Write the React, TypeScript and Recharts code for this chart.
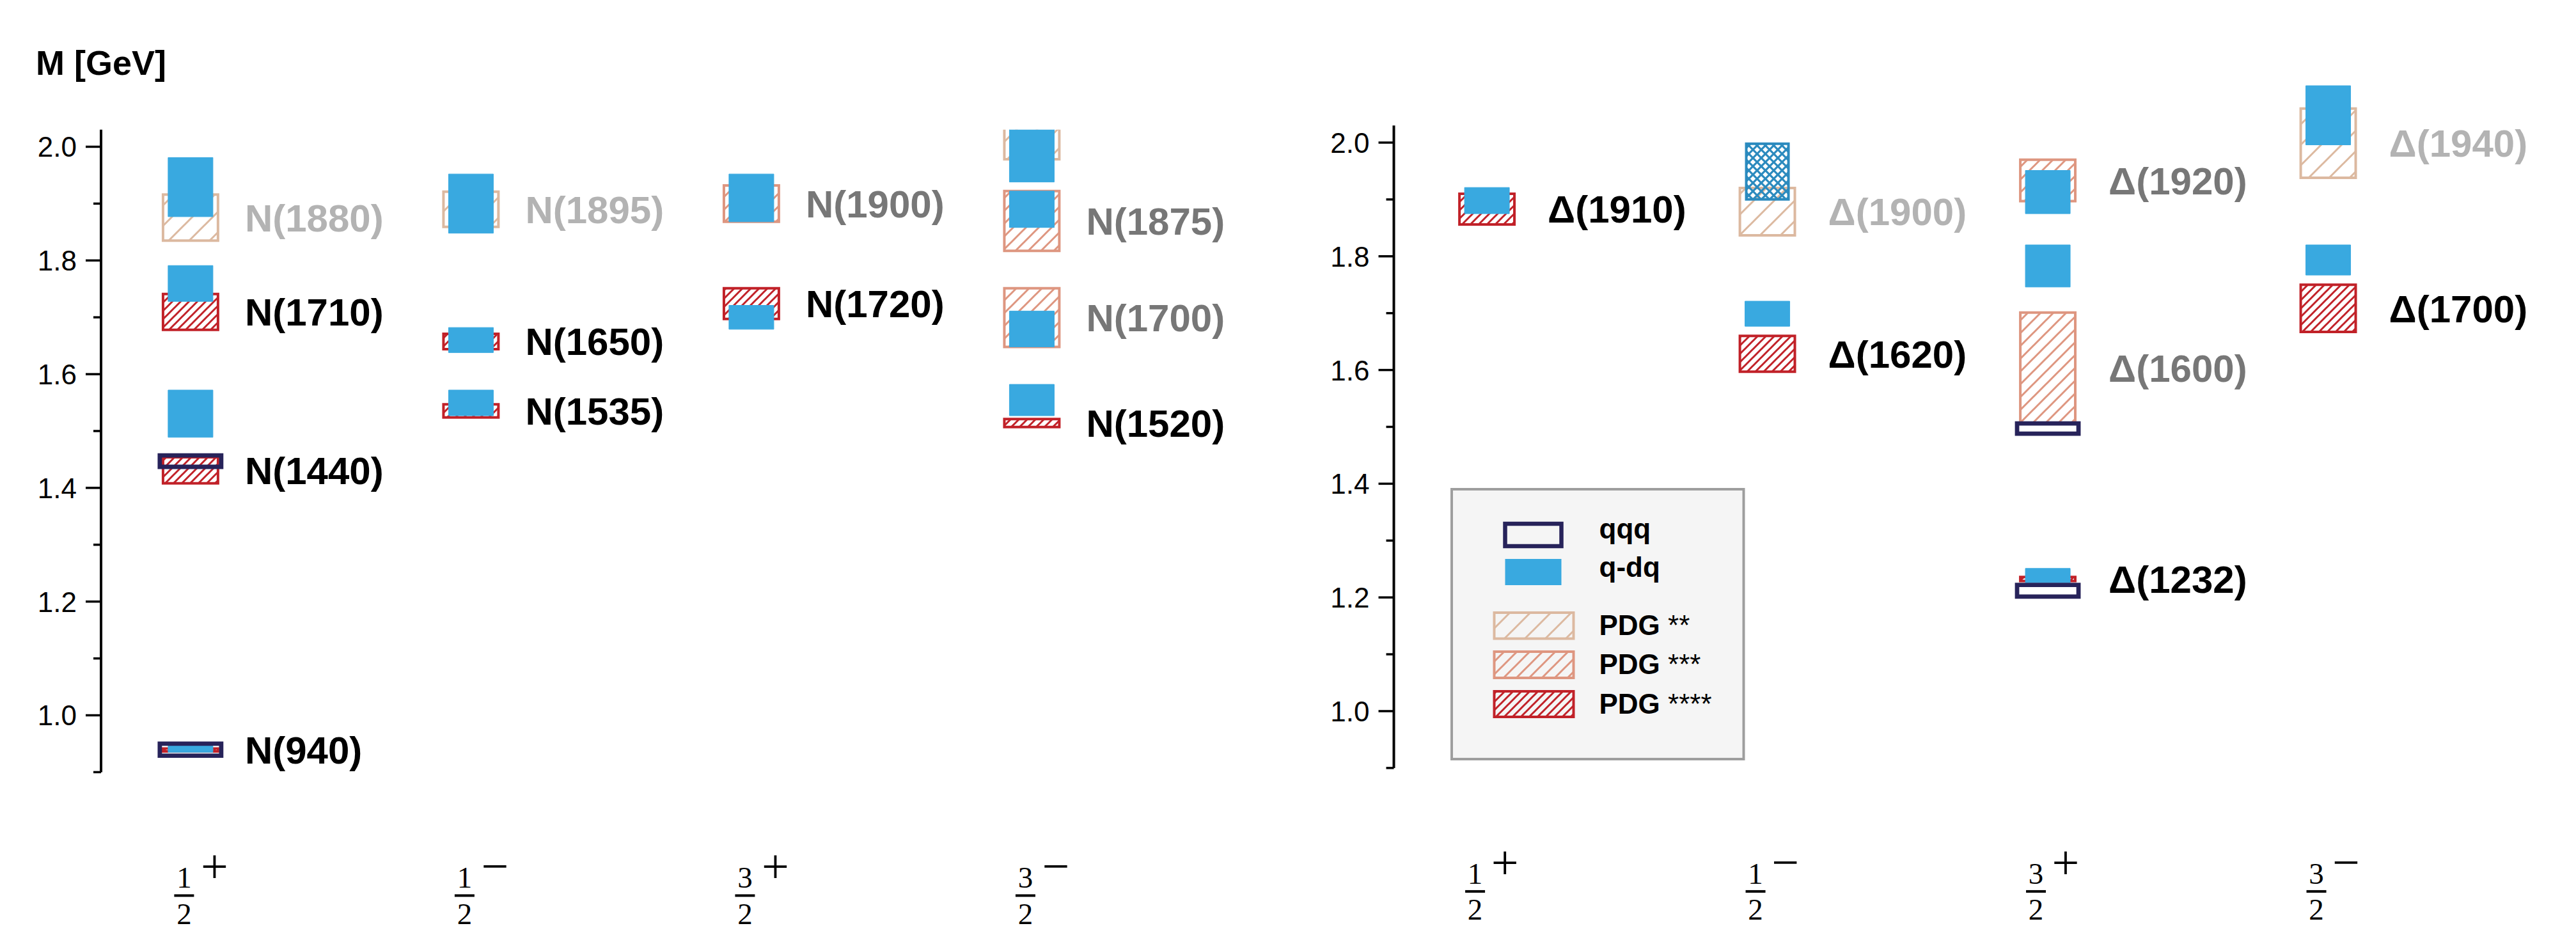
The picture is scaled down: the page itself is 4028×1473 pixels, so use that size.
import React from "react";
import { ComposedChart, XAxis, YAxis, ReferenceArea, Scatter, Legend } from "recharts";

// columns of the level scheme
const spinParity = ["1/2+", "1/2−", "3/2+", "3/2−"];
const columnTicks = [1, 2, 3, 4];
const majorMassTicks = [1.0, 1.2, 1.4, 1.6, 1.8, 2.0];
const minorMassTicks = [0.9, 1.1, 1.3, 1.5, 1.7, 1.9];
const massTicks = [...minorMassTicks, ...majorMassTicks].sort((a, b) => a - b);

// PDG mass ranges in GeV (stars = PDG rating)
const nucleonPdg = [
  { jp: "1/2+", lo: 0.9365, hi: 0.9415, stars: 4, name: "N(940)" },
  { jp: "1/2+", lo: 1.408, hi: 1.454, stars: 4, name: "N(1440)" },
  { jp: "1/2+", lo: 1.678, hi: 1.741, stars: 4, name: "N(1710)" },
  { jp: "1/2+", lo: 1.835, hi: 1.916, stars: 2, name: "N(1880)" },
  { jp: "1/2−", lo: 1.524, hi: 1.547, stars: 4, name: "N(1535)" },
  { jp: "1/2−", lo: 1.644, hi: 1.671, stars: 4, name: "N(1650)" },
  { jp: "1/2−", lo: 1.859, hi: 1.921, stars: 2, name: "N(1895)" },
  { jp: "3/2+", lo: 1.697, hi: 1.751, stars: 4, name: "N(1720)" },
  { jp: "3/2+", lo: 1.868, hi: 1.932, stars: 3, name: "N(1900)" },
  { jp: "3/2−", lo: 1.507, hi: 1.521, stars: 4, name: "N(1520)" },
  { jp: "3/2−", lo: 1.648, hi: 1.751, stars: 3, name: "N(1700)" },
  { jp: "3/2−", lo: 1.817, hi: 1.922, stars: 3, name: "N(1875)" },
  { jp: "3/2−", lo: 1.978, hi: 2.1, stars: 2, name: "" },
];

// quark-diquark results
const nucleonQdq = [
  { jp: "1/2+", lo: 0.935, hi: 0.946 },
  { jp: "1/2+", lo: 1.489, hi: 1.572 },
  { jp: "1/2+", lo: 1.728, hi: 1.791 },
  { jp: "1/2+", lo: 1.877, hi: 1.981 },
  { jp: "1/2−", lo: 1.527, hi: 1.572 },
  { jp: "1/2−", lo: 1.638, hi: 1.682 },
  { jp: "1/2−", lo: 1.848, hi: 1.952 },
  { jp: "3/2+", lo: 1.679, hi: 1.721 },
  { jp: "3/2+", lo: 1.868, hi: 1.952 },
  { jp: "3/2−", lo: 1.527, hi: 1.582 },
  { jp: "3/2−", lo: 1.648, hi: 1.711 },
  { jp: "3/2−", lo: 1.858, hi: 1.922 },
  { jp: "3/2−", lo: 1.938, hi: 2.1 },
];

// three-quark results
const nucleonQqq = [
  { jp: "1/2+", lo: 0.929, hi: 0.95 },
  { jp: "1/2+", lo: 1.437, hi: 1.457 },
];

const deltaPdg = [
  { jp: "1/2+", lo: 1.856, hi: 1.91, stars: 4, name: "Δ(1910)" },
  { jp: "1/2−", lo: 1.597, hi: 1.66, stars: 4, name: "Δ(1620)" },
  { jp: "1/2−", lo: 1.837, hi: 1.92, stars: 2, name: "Δ(1900)" },
  { jp: "3/2+", lo: 1.229, hi: 1.236, stars: 4, name: "Δ(1232)" },
  { jp: "3/2+", lo: 1.507, hi: 1.701, stars: 3, name: "Δ(1600)" },
  { jp: "3/2+", lo: 1.897, hi: 1.97, stars: 3, name: "Δ(1920)" },
  { jp: "3/2−", lo: 1.667, hi: 1.75, stars: 4, name: "Δ(1700)" },
  { jp: "3/2−", lo: 1.938, hi: 2.06, stars: 2, name: "Δ(1940)" },
];

const deltaQdq = [
  { jp: "1/2+", lo: 1.875, hi: 1.921 },
  { jp: "1/2−", lo: 1.677, hi: 1.721 },
  { jp: "3/2+", lo: 1.226, hi: 1.251 },
  { jp: "3/2+", lo: 1.746, hi: 1.82 },
  { jp: "3/2+", lo: 1.875, hi: 1.951 },
  { jp: "3/2−", lo: 1.767, hi: 1.82 },
  { jp: "3/2−", lo: 1.996, hi: 2.1 },
];

const deltaQdqHatched = [{ jp: "1/2−", lo: 1.9, hi: 1.998 }];

const deltaQqq = [
  { jp: "3/2+", lo: 1.2015, hi: 1.222 },
  { jp: "3/2+", lo: 1.488, hi: 1.506 },
];

const legendItems = [
  { label: "qqq", kind: "qqq" },
  { label: "q-dq", kind: "qdq" },
  { label: "PDG", stars: 2, kind: "pdg" },
  { label: "PDG", stars: 3, kind: "pdg" },
  { label: "PDG", stars: 4, kind: "pdg" },
];

const QQQ_COLOR = "#27235a";
const QDQ_COLOR = "#39a9e0";
const XHATCH_COLOR = "#2b8abe";
const PDG_COLOR: Record<number, string> = { 2: "#dcb9a0", 3: "#de9680", 4: "#c12128" };
const LABEL_COLOR: Record<number, string> = { 2: "#b3b3b3", 3: "#777777", 4: "#000000" };
const HATCH_SPACING: Record<number, number> = { 2: 32, 3: 20, 4: 13 };

// half widths in column units
const PDG_HALF = 0.098;
const QDQ_HALF = 0.0798;
const XHATCH_HALF = 0.0753;
const QQQ_HALF = 0.1095;

const SANS = "'Liberation Sans', Arial, Helvetica, sans-serif";
const SERIF = "'Liberation Serif', 'Times New Roman', serif";

const col = (jp: string) => spinParity.indexOf(jp) + 1;

function fwd(s: number, w: number) {
  return `M0,${s} L${s},0 M${-w},${w} L${w},${-w} M${s - w},${s + w} L${s + w},${s - w}`;
}
function back(s: number, w: number) {
  return `M0,0 L${s},${s} M${s - w},${-w} L${s + w},${w} M${-w},${s - w} L${w},${s + w}`;
}

function HatchDefs() {
  return (
    <svg width={0} height={0} style={{ position: "absolute" }}>
      <defs>
        {[2, 3, 4].map((st) => (
          <pattern
            key={st}
            id={`hatch${st}`}
            patternUnits="userSpaceOnUse"
            width={HATCH_SPACING[st]}
            height={HATCH_SPACING[st]}
          >
            <path d={fwd(HATCH_SPACING[st], 3)} stroke={PDG_COLOR[st]} strokeWidth={3} />
          </pattern>
        ))}
        <pattern id="xhatch" patternUnits="userSpaceOnUse" width={13} height={13}>
          <path d={fwd(13, 3)} stroke={XHATCH_COLOR} strokeWidth={3.2} />
          <path d={back(13, 3)} stroke={XHATCH_COLOR} strokeWidth={3.2} />
        </pattern>
      </defs>
    </svg>
  );
}

function MassTick({ x, y, payload }: any) {
  const v = payload.value;
  const major = majorMassTicks.some((m) => Math.abs(m - v) < 1e-6);
  return (
    <g>
      <line x1={x - (major ? 24 : 12)} x2={x} y1={y} y2={y} stroke="#000" strokeWidth={3.5} />
      {major && (
        <text x={x - 38} y={y + 16} textAnchor="end" fontSize={44} fontFamily={SANS} fill="#000">
          {v.toFixed(1)}
        </text>
      )}
    </g>
  );
}

function SpinTick({ x, y, payload, fracDx, signDx }: any) {
  const s = spinParity[payload.value - 1];
  if (!s) return null;
  const [num, rest] = s.split("/");
  const den = rest[0];
  const sign = rest.slice(1);
  const fx = x + fracDx;
  return (
    <g>
      <text x={fx} y={y + 181} textAnchor="middle" fontSize={47} fontFamily={SERIF} fill="#000">
        {num}
      </text>
      <line x1={fx - 15.5} x2={fx + 15.5} y1={y + 193} y2={y + 193} stroke="#000" strokeWidth={4} />
      <text x={fx} y={y + 237.5} textAnchor="middle" fontSize={47} fontFamily={SERIF} fill="#000">
        {den}
      </text>
      <text x={x + signDx} y={y + 173} textAnchor="middle" fontSize={76} fontFamily={SERIF} fill="#000">
        {sign}
      </text>
    </g>
  );
}

function LegendBox() {
  const rows = [
    { y: 56, h: 35, base: 79 },
    { y: 111, h: 41, base: 139 },
    { y: 195, h: 40.6, base: 230 },
    { y: 256, h: 41, base: 290.6 },
    { y: 318, h: 40, base: 352.6 },
  ];
  return (
    <svg width={461} height={427} style={{ display: "block" }}>
      <rect x={2} y={2} width={456.5} height={422} fill="#f5f5f5" stroke="#9e9e9e" strokeWidth={4} />
      {legendItems.map((it, i) => {
        const r = rows[i];
        let swatch;
        if (it.kind === "qqq") {
          swatch = <rect x={85.5} y={r.y} width={88} height={r.h} fill="none" stroke={QQQ_COLOR} strokeWidth={6.5} />;
        } else if (it.kind === "qdq") {
          swatch = <rect x={85.5} y={r.y} width={88} height={r.h} fill={QDQ_COLOR} />;
        } else {
          swatch = (
            <rect
              x={68.5}
              y={r.y}
              width={124}
              height={r.h}
              fill={`url(#hatch${it.stars})`}
              stroke={PDG_COLOR[it.stars!]}
              strokeWidth={4}
            />
          );
        }
        return (
          <g key={i}>
            {swatch}
            <text x={232.5} y={r.base} fontSize={44} fontFamily={SANS} fill="#000">
              <tspan fontWeight="bold">{it.label}</tspan>
              {it.stars ? <tspan fontWeight="normal">{" " + "*".repeat(it.stars)}</tspan> : null}
            </text>
          </g>
        );
      })}
    </svg>
  );
}

function Panel({ pdg, qdq, qdqHatched, qqq, width, margin, xDomain, overflow, labelDx, fracDx, signDx, legend }: any) {
  const labels = pdg
    .filter((p: any) => p.name)
    .map((p: any) => ({ x: col(p.jp), y: (p.lo + p.hi) / 2, name: p.name, stars: p.stars }));
  return (
    <ComposedChart width={width} height={1473} margin={margin}>
      <XAxis
        type="number"
        dataKey="x"
        domain={xDomain}
        ticks={columnTicks}
        interval={0}
        allowDataOverflow
        axisLine={false}
        tickLine={false}
        tickSize={0}
        tickMargin={0}
        height={260}
        tick={(p: any) => <SpinTick {...p} fracDx={fracDx} signDx={signDx} />}
      />
      <YAxis
        type="number"
        domain={[0.9, 2.03]}
        ticks={massTicks}
        interval={0}
        allowDataOverflow
        width={100}
        axisLine={{ stroke: "#000", strokeWidth: 4 }}
        tickLine={false}
        tickSize={0}
        tickMargin={0}
        tick={(p: any) => <MassTick {...p} />}
      />
      {pdg.map((p: any, i: number) => (
        <ReferenceArea
          key={"pdg" + i}
          x1={col(p.jp) - PDG_HALF}
          x2={col(p.jp) + PDG_HALF}
          y1={p.lo}
          y2={p.hi}
          fill={`url(#hatch${p.stars})`}
          fillOpacity={1}
          stroke={PDG_COLOR[p.stars]}
          strokeWidth={4}
          ifOverflow={overflow}
        />
      ))}
      {qdq.map((p: any, i: number) => (
        <ReferenceArea
          key={"qdq" + i}
          x1={col(p.jp) - QDQ_HALF}
          x2={col(p.jp) + QDQ_HALF}
          y1={p.lo}
          y2={p.hi}
          fill={QDQ_COLOR}
          fillOpacity={1}
          stroke={QDQ_COLOR}
          strokeWidth={1}
          ifOverflow={overflow}
        />
      ))}
      {qdqHatched.map((p: any, i: number) => (
        <ReferenceArea
          key={"xh" + i}
          x1={col(p.jp) - XHATCH_HALF}
          x2={col(p.jp) + XHATCH_HALF}
          y1={p.lo}
          y2={p.hi}
          fill="url(#xhatch)"
          fillOpacity={1}
          stroke={XHATCH_COLOR}
          strokeWidth={4}
          ifOverflow={overflow}
        />
      ))}
      {qqq.map((p: any, i: number) => (
        <ReferenceArea
          key={"qqq" + i}
          x1={col(p.jp) - QQQ_HALF}
          x2={col(p.jp) + QQQ_HALF}
          y1={p.lo}
          y2={p.hi}
          fill="none"
          fillOpacity={0}
          stroke={QQQ_COLOR}
          strokeWidth={6.8}
          ifOverflow={overflow}
        />
      ))}
      <Scatter
        data={labels}
        dataKey="y"
        isAnimationActive={false}
        shape={(props: any) => (
          <text
            x={props.cx + labelDx}
            y={props.cy + 21.5}
            fontSize={60}
            fontWeight="bold"
            fontFamily={SANS}
            fill={LABEL_COLOR[props.payload.stars]}
          >
            {props.payload.name}
          </text>
        )}
      />
      {legend && (
        <Legend
          layout="vertical"
          align="center"
          verticalAlign="middle"
          content={() => <LegendBox />}
          wrapperStyle={{ left: 267.5, top: 763, width: 461, height: 427 }}
        />
      )}
    </ComposedChart>
  );
}

export default function App() {
  return (
    <div
      style={{
        position: "absolute",
        left: 0,
        top: 0,
        width: 4028,
        height: 1473,
        background: "#fff",
        overflow: "hidden",
      }}
    >
      <HatchDefs />
      <div style={{ position: "absolute", left: 0, top: 0 }}>
        <Panel
          pdg={nucleonPdg}
          qdq={nucleonQdq}
          qdqHatched={[]}
          qqq={nucleonQqq}
          width={2000}
          margin={{ top: 202.8, right: 41.9, bottom: 5.6, left: 58 }}
          xDomain={[0.681, 4.786]}
          overflow="hidden"
          labelDx={85}
          fracDx={-10}
          signDx={37.5}
          legend={false}
        />
      </div>
      <div style={{ position: "absolute", left: 2000, top: 0 }}>
        <Panel
          pdg={deltaPdg}
          qdq={deltaQdq}
          qdqHatched={deltaQdqHatched}
          qqq={deltaQqq}
          width={2028}
          margin={{ top: 196.3, right: 48.5, bottom: 12.1, left: 79.5 }}
          xDomain={[0.668, 4.773]}
          overflow="visible"
          labelDx={95}
          fracDx={-18.5}
          signDx={28}
          legend={true}
        />
      </div>
      <svg
        width={4028}
        height={1473}
        style={{ position: "absolute", left: 0, top: 0, pointerEvents: "none" }}
      >
        <text x={56} y={117} fontSize={54} fontWeight="bold" fontFamily={SANS} fill="#000">
          M [GeV]
        </text>
      </svg>
    </div>
  );
}
